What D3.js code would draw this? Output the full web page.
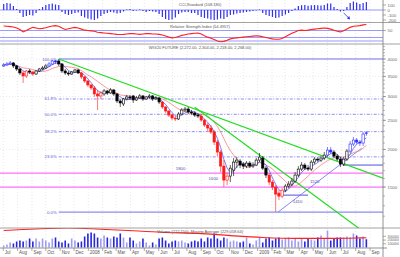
<!DOCTYPE html>
<html>
<head>
<meta charset="utf-8">
<script src="https://cdn.jsdelivr.net/npm/d3@7"></script>
<style>
body { margin:0; background:#fff; }
svg { display:block; font-family:"Liberation Sans", Arial, sans-serif; }
</style>
</head>
<body>
<div id="chart"></div>
<script>
// Weekly WIG20 future, Jul 2007 - Aug 2009
var firstWeek = "2007-07-02";

var open = [3792,3821,3850,3880,3792,3705,3594,3512,3649,3621,
  3566,3649,3705,3734,3792,3850,3940,3940,3850,3649,
  3594,3566,3621,3677,3594,3486,3380,3278,3204,3060,
  3014,3060,3131,3084,3155,3060,2900,2834,2945,2991,
  3014,2922,2968,3014,2945,2991,3014,2945,2968,2878,
  2769,2685,2604,2545,2526,2624,2706,2727,2665,2645,
  2604,2584,2506,2412,2357,2286,2117,1961,1761,1582,
  1631,1708,1816,1830,1788,1761,1802,1761,1775,1844,
  1873,1734,1644,1558,1499,1432,1399,1465,1511,1534,
  1570,1644,1721,1775,1734,1721,1816,1858,1844,1873,
  1916,1991,1961,1902,1858,1788,1858,1976,2085,2150,
  2117,2101,2272];
var high = [3880,3910,3940,3910,3821,3734,3649,3677,3705,3649,
  3677,3734,3792,3850,3910,3970,3970,4000,3880,3705,
  3649,3649,3705,3705,3621,3512,3406,3304,3253,3155,
  3131,3180,3155,3204,3180,3084,2945,2968,3037,3037,
  3037,3014,3060,3037,3014,3060,3037,3014,2991,2900,
  2791,2706,2624,2584,2665,2748,2769,2769,2706,2685,
  2645,2624,2526,2449,2412,2321,2150,1991,1844,1682,
  1775,1873,1887,1858,1816,1830,1830,1816,1873,1946,
  1902,1761,1669,1582,1522,1465,1488,1534,1570,1607,
  1682,1761,1816,1802,1775,1844,1887,1887,1902,1961,
  2038,2038,1991,1931,1887,1887,2007,2134,2200,2183,
  2150,2286,2304];
var low = [3763,3792,3821,3734,3649,3539,3329,3459,3566,3512,
  3539,3621,3677,3705,3763,3821,3850,3792,3594,3539,
  3512,3539,3594,3566,3433,3329,3229,3155,2991,2706,
  2945,3014,3037,3060,3014,2856,2769,2791,2922,2922,
  2856,2900,2945,2900,2922,2945,2900,2922,2834,2727,
  2645,2565,2506,2487,2506,2604,2665,2624,2604,2565,
  2545,2468,2375,2304,2251,2069,1902,1682,1499,1522,
  1558,1631,1734,1734,1721,1734,1734,1734,1761,1816,
  1708,1607,1522,1465,1238,1357,1378,1443,1488,1511,
  1546,1619,1695,1708,1695,1695,1788,1816,1816,1844,
  1887,1931,1873,1830,1748,1761,1830,1946,2053,2085,
  2053,2053,2218];
var close = [3821,3850,3880,3792,3705,3594,3512,3649,3621,3566,
  3649,3705,3734,3792,3850,3940,3910,3850,3649,3594,
  3566,3621,3677,3594,3486,3380,3278,3204,3060,3014,
  3084,3131,3084,3155,3060,2900,2856,2945,2991,2968,
  2922,2968,3014,2945,2991,3014,2945,2968,2878,2769,
  2685,2604,2545,2526,2624,2706,2727,2665,2645,2604,
  2584,2506,2412,2357,2286,2117,1961,1761,1582,1631,
  1734,1816,1844,1775,1761,1802,1761,1775,1844,1887,
  1734,1644,1558,1499,1421,1399,1465,1511,1534,1570,
  1644,1721,1775,1734,1721,1816,1858,1844,1873,1916,
  1991,1961,1902,1858,1788,1858,1976,2085,2150,2117,
  2101,2251,2268];
var volume = [54000,81000,135000,108000,162000,188000,162000,188000,242000,162000,
  242000,162000,242000,188000,135000,242000,269000,162000,135000,188000,
  108000,242000,188000,135000,162000,296000,377000,404000,377000,269000,
  242000,323000,269000,242000,296000,269000,377000,269000,135000,269000,
  188000,108000,162000,242000,135000,54000,135000,81000,242000,269000,
  188000,108000,162000,188000,162000,188000,135000,108000,162000,188000,
  162000,242000,162000,269000,242000,377000,242000,188000,269000,242000,
  162000,188000,162000,135000,162000,269000,108000,81000,188000,269000,
  135000,242000,269000,188000,242000,269000,215000,242000,269000,188000,
  242000,162000,242000,162000,242000,215000,188000,269000,323000,242000,
  458000,188000,242000,269000,269000,269000,296000,269000,377000,323000,
  242000,296000,222150];
var cci = [120,140,130,80,20,-60,-140,-120,-100,-110,
  -60,20,60,100,120,130,110,100,-40,-80,
  -100,-80,-60,-50,-120,-150,-170,-190,-200,-170,
  -120,-80,-60,-40,-50,-70,-60,-30,10,20,
  -20,-10,10,-20,-40,-20,-30,-40,-80,-140,
  -180,-200,-190,-150,-80,-50,-40,-40,-60,-60,
  -100,-140,-160,-170,-190,-200,-190,-170,-180,-140,
  -100,-90,-70,-60,-50,-40,-30,-20,-10,10,
  -60,-100,-120,-140,-160,-150,-120,-90,-60,-20,
  30,80,95,100,85,95,100,95,90,100,
  130,130,60,20,-30,-20,60,140,170,150,
  120,140,160];
var rsi = [63,62,61,60,57,53,46,50,55,59,
  57,55,56,58,61,63,64,62,57,53,
  55,57,59,57,54,51,50,49,48,45,
  44,43,42,41,40,39,38.5,39,40,41,
  41,40,39,40,41,41,40,40,39,37,
  34,31,29,30,33,36,38,40,41,42,
  43,40,35,31,28,24,20,18,19,22,
  26,28,29,30,31,32,33,34,35,34,
  32,30,28,26,25,25,27,32,37,42,
  46,50,51,50,51,53,54,55,56,57,
  56,54,51,48,46,49,54,59,62,63,
  64,66,67];
var volMaWeeks = [0,10,20,30,40,50,60,70,80,90,100,110,112];
var volMaValues = [458000,500000,525000,490000,450000,405000,380000,320000,270000,245000,245000,258000,262000];

var priceTicks = [4000,3500,3000,2500,2000,1500];
var cciTicks = [100,0,-100,-200];
var rsiLevels = [50,30,20];
var rsiTicks = [50];
var volTicks = [300000,200000,100000];
var monthNames = ["2008","Feb","Mar","Apr","May","Jun","Jul","Aug","Sep","Oct","Nov","Dec"];

// Fibonacci retracement from the Oct 2007 high to the Feb 2009 low
var fibFrom = "2007-10-29";
var fibHigh = 4000, fibLow = 1238;
var fibLevels = [1, 0.618, 0.5, 0.382, 0.236, 0];
var fibLabels = ["100.0%","61.8%","50.0%","38.2%","23.6%","0.0%"];

// drawn lines: [date, price]
var greenLine1 = [["2007-10-29", 4000], ["2009-09-29", 1606]];
var greenLine2 = [["2008-08-18", 2765], ["2009-08-10", 1087]];
var supportLine = [["2009-02-14", 1238], ["2009-08-14", 2021]];
var level1410 = [["2009-02-25", 1410], ["2009-04-20", 1410]];
var level1775 = [["2009-07-04", 1775], ["2009-09-29", 1775]];
var pinkLevels = [1669, 1499];
var noteText = ["1800", "1600", "1520", "1410"];
var noteDate = ["2008-07-08", "2008-09-17", "2009-04-24", "2009-03-18"];
var notePrice = [1734, 1607, 1570, 1342];

var parseDate = d3.timeParse("%Y-%m-%d");
var start = parseDate(firstWeek);
var weeks = d3.timeMonday.range(start, d3.timeMonday.offset(start, close.length));

var svg_width = 400, svg_height = 257;
var plotRight = 383;
var cciTop = 0, cciBot = 22.5, rsiTop = 22.5, rsiBot = 44;
var mainTop = 44, mainBot = 228, volTop = 228, volBot = 248;

var svg = d3.select("#chart").append("svg")
  .attr("width", svg_width)
  .attr("height", svg_height);

var x = d3.scaleTime()
  .domain([parseDate("2007-06-24"), parseDate("2009-09-29")])
  .range([0, plotRight]);
var y = d3.scaleLog().domain([1096, 4487]).range([mainBot, mainTop]);
var yCci = d3.scaleLinear().domain([-250, 200]).range([cciBot, cciTop]);
var yRsi = d3.scaleLinear().domain([11.4, 72.9]).range([rsiBot, rsiTop]);
var yVol = d3.scaleLinear().domain([0, 350000]).range([247.5, 234.5]);

function clip(id, top, bot) {
  svg.append("clipPath").attr("id", id).append("rect")
    .attr("x", 0).attr("y", top).attr("width", plotRight).attr("height", bot - top);
}
clip("cMain", mainTop, mainBot);
clip("cCci", cciTop, cciBot);
clip("cRsi", rsiTop, rsiBot);
clip("cVol", volTop, volBot);

// month grid
var months = d3.timeMonth.range(parseDate("2007-07-01"), parseDate("2009-09-02"));
svg.append("g").selectAll("line")
  .data(months).enter().append("line")
  .attr("x1", function(d) { return x(d); })
  .attr("x2", function(d) { return x(d); })
  .attr("y1", 0).attr("y2", volBot)
  .attr("stroke", "#d8d8d8")
  .attr("stroke-width", 0.6)
  .attr("stroke-dasharray", "1,2");

svg.append("g").selectAll("line")
  .data(priceTicks).enter().append("line")
  .attr("x1", 0).attr("x2", plotRight)
  .attr("y1", function(d) { return y(d); })
  .attr("y2", function(d) { return y(d); })
  .attr("stroke", "#dcdcdc")
  .attr("stroke-width", 0.6)
  .attr("stroke-dasharray", "1,2");

// ---------- CCI ----------
var gCci = svg.append("g").attr("clip-path", "url(#cCci)");
gCci.append("line")
  .attr("x1", 0).attr("x2", plotRight)
  .attr("y1", yCci(0)).attr("y2", yCci(0))
  .attr("stroke", "#7b7bff").attr("stroke-width", 0.8);
gCci.selectAll("rect")
  .data(cci).enter().append("rect")
  .attr("x", function(d, i) { return x(weeks[i]) - 0.6; })
  .attr("y", function(d) { return Math.min(yCci(d), yCci(0)); })
  .attr("width", 1.2)
  .attr("height", function(d) { return Math.abs(yCci(d) - yCci(0)); })
  .attr("fill", "#2f2ff0");
gCci.append("line")
  .attr("x1", x(parseDate("2009-07-06"))).attr("y1", yCci(-60))
  .attr("x2", x(parseDate("2009-07-17"))).attr("y2", yCci(-160))
  .attr("stroke", "#3030f0").attr("stroke-width", 0.8);
gCci.append("path")
  .attr("d", d3.symbol().type(d3.symbolTriangle).size(5))
  .attr("transform", "translate(" + x(parseDate("2009-07-17")) + "," + yCci(-160) + ") rotate(135)")
  .attr("fill", "#3030f0");

// ---------- RSI ----------
var gRsi = svg.append("g").attr("clip-path", "url(#cRsi)");
gRsi.selectAll("line")
  .data(rsiLevels).enter().append("line")
  .attr("x1", 0).attr("x2", plotRight)
  .attr("y1", function(d) { return yRsi(d); })
  .attr("y2", function(d) { return yRsi(d); })
  .attr("stroke", "#8080ff").attr("stroke-width", 0.8);
gRsi.append("path")
  .datum(rsi)
  .attr("fill", "none")
  .attr("stroke", "#ff2020")
  .attr("stroke-width", 1.1)
  .attr("d", d3.line()
    .x(function(d, i) { return x(weeks[i]); })
    .y(function(d) { return yRsi(d); }));

// ---------- main price panel ----------
var gMain = svg.append("g").attr("clip-path", "url(#cMain)");

var fibStartX = x(parseDate(fibFrom));
gMain.selectAll(".fib")
  .data(fibLevels).enter().append("line")
  .attr("class", "fib")
  .attr("x1", fibStartX).attr("x2", plotRight)
  .attr("y1", function(d) { return y(fibLow + d * (fibHigh - fibLow)); })
  .attr("y2", function(d) { return y(fibLow + d * (fibHigh - fibLow)); })
  .attr("stroke", "#7070f0")
  .attr("stroke-width", function(d) { return (d === 0 || d === 1) ? 1 : 0.8; })
  .attr("stroke-dasharray", function(d) { return (d === 0 || d === 1) ? null : "3,1.5,1,1.5"; });

gMain.selectAll(".fibLabel")
  .data(fibLevels).enter().append("text")
  .attr("class", "fibLabel")
  .attr("x", fibStartX - 2)
  .attr("y", function(d) { return y(fibLow + d * (fibHigh - fibLow)); })
  .attr("dy", "0.35em")
  .attr("text-anchor", "end")
  .attr("font-size", "4.3px")
  .attr("fill", "#5a5ad0")
  .text(function(d, i) { return fibLabels[i]; });

gMain.selectAll(".pink")
  .data(pinkLevels).enter().append("line")
  .attr("class", "pink")
  .attr("x1", 0).attr("x2", plotRight)
  .attr("y1", function(d) { return y(d); })
  .attr("y2", function(d) { return y(d); })
  .attr("stroke", "#ff70ff").attr("stroke-width", 1.1);

function drawSeg(seg, color, width) {
  gMain.append("line")
    .attr("x1", x(parseDate(seg[0][0]))).attr("y1", y(seg[0][1]))
    .attr("x2", x(parseDate(seg[1][0]))).attr("y2", y(seg[1][1]))
    .attr("stroke", color).attr("stroke-width", width);
}
drawSeg(level1410, "#5050e0", 1);
drawSeg(level1775, "#5050e0", 1);
drawSeg(supportLine, "#6a6af0", 0.8);

// moving averages of the close
function sma(arr, n) {
  return arr.map(function(d, i) {
    return d3.mean(arr.slice(Math.max(0, i - n + 1), i + 1));
  });
}
var maFast = sma(close, 4);
var maSlow = sma(close, 9);
var maLine = d3.line()
  .x(function(d, i) { return x(weeks[i]); })
  .y(function(d) { return y(d); });
gMain.append("path").datum(maSlow)
  .attr("fill", "none").attr("stroke", "#f08080").attr("stroke-width", 0.8)
  .attr("d", maLine);
gMain.append("path").datum(maFast)
  .attr("fill", "none").attr("stroke", "#5c5cf5").attr("stroke-width", 0.8)
  .attr("d", maLine);

drawSeg(greenLine1, "#22dd22", 1.2);
drawSeg(greenLine2, "#22dd22", 1.2);

// candles, coloured by the CCI zone (blue above +100, red below -100)
var candleW = 2.3;
function zoneColor(i) {
  if (cci[i] > 100) return "#2b2bff";
  if (cci[i] < -100) return "#ff1a1a";
  return "#000";
}
var candles = gMain.selectAll(".candle")
  .data(close).enter().append("g").attr("class", "candle");
candles.append("line")
  .attr("x1", function(d, i) { return x(weeks[i]); })
  .attr("x2", function(d, i) { return x(weeks[i]); })
  .attr("y1", function(d, i) { return y(high[i]); })
  .attr("y2", function(d, i) { return y(low[i]); })
  .attr("stroke", function(d, i) { return zoneColor(i); })
  .attr("stroke-width", 0.6);
candles.append("rect")
  .attr("x", function(d, i) { return x(weeks[i]) - candleW / 2; })
  .attr("y", function(d, i) { return y(Math.max(open[i], close[i])); })
  .attr("width", candleW)
  .attr("height", function(d, i) { return Math.max(0.6, Math.abs(y(open[i]) - y(close[i]))); })
  .attr("fill", function(d, i) { return close[i] >= open[i] ? "#fff" : zoneColor(i); })
  .attr("stroke", function(d, i) { return zoneColor(i); })
  .attr("stroke-width", 0.6);

gMain.selectAll(".note")
  .data(noteText).enter().append("text")
  .attr("class", "note")
  .attr("x", function(d, i) { return x(parseDate(noteDate[i])); })
  .attr("y", function(d, i) { return y(notePrice[i]); })
  .attr("dy", "0.35em")
  .attr("font-size", "4.3px")
  .attr("fill", "#5050b0")
  .text(function(d) { return d; });

// ---------- volume ----------
var gVol = svg.append("g").attr("clip-path", "url(#cVol)");
gVol.selectAll("rect")
  .data(volume).enter().append("rect")
  .attr("x", function(d, i) { return x(weeks[i]) - 0.8; })
  .attr("y", function(d) { return yVol(d); })
  .attr("width", 1.6)
  .attr("height", function(d) { return yVol(0) - yVol(d); })
  .attr("fill", function(d, i) { return close[i] < open[i] ? "#2626dd" : "#9d9df2"; });
gVol.append("path")
  .datum(volMaValues)
  .attr("fill", "none")
  .attr("stroke", "#ff2020")
  .attr("stroke-width", 1.1)
  .attr("d", d3.line()
    .curve(d3.curveMonotoneX)
    .x(function(d, i) { return x(weeks[volMaWeeks[i]]); })
    .y(function(d) { return yVol(d); }));

// ---------- frame, separators, axes ----------
[cciBot, rsiBot, mainBot].forEach(function(v) {
  svg.append("line")
    .attr("x1", 0).attr("x2", svg_width)
    .attr("y1", v).attr("y2", v)
    .attr("stroke", "#8c8c8c").attr("stroke-width", 0.8);
});
svg.append("line")
  .attr("x1", 0).attr("x2", plotRight + 4)
  .attr("y1", volBot).attr("y2", volBot)
  .attr("stroke", "#777").attr("stroke-width", 0.8);
svg.append("line")
  .attr("x1", plotRight).attr("x2", plotRight)
  .attr("y1", 0).attr("y2", svg_height)
  .attr("stroke", "#777").attr("stroke-width", 0.8);

// minor price ticks
var minorTicks = d3.range(1200, 4500, 100);
svg.append("g").selectAll("line")
  .data(minorTicks).enter().append("line")
  .attr("x1", plotRight).attr("x2", plotRight + 2)
  .attr("y1", function(d) { return y(d); })
  .attr("y2", function(d) { return y(d); })
  .attr("stroke", "#777").attr("stroke-width", 0.5);

function rightLabels(ticks, scale, size) {
  var g = svg.append("g");
  g.selectAll("line").data(ticks).enter().append("line")
    .attr("x1", plotRight).attr("x2", plotRight + 3)
    .attr("y1", function(d) { return scale(d); })
    .attr("y2", function(d) { return scale(d); })
    .attr("stroke", "#777").attr("stroke-width", 0.6);
  g.selectAll("text").data(ticks).enter().append("text")
    .attr("x", plotRight + 4.5)
    .attr("y", function(d) { return scale(d); })
    .attr("dy", "0.35em")
    .attr("font-size", size)
    .attr("fill", "#666")
    .text(function(d) { return d; });
}
rightLabels(priceTicks, y, "4.3px");
rightLabels(cciTicks, yCci, "4.3px");
rightLabels(rsiTicks, yRsi, "4.3px");
rightLabels(volTicks, yVol, "3.4px");

// month axis
svg.append("g").selectAll("line")
  .data(months).enter().append("line")
  .attr("x1", function(d) { return x(d); })
  .attr("x2", function(d) { return x(d); })
  .attr("y1", volBot).attr("y2", volBot + 3)
  .attr("stroke", "#777").attr("stroke-width", 0.6);
svg.append("g").selectAll("text")
  .data(months).enter().append("text")
  .attr("x", function(d) { return x(d) + 1.5; })
  .attr("y", volBot + 6)
  .attr("font-size", "4.5px")
  .attr("fill", "#555")
  .text(function(d) {
    return d.getMonth() === 0 ? String(d.getFullYear()) : monthNames[d.getMonth()];
  });

// panel titles
var titles = [
  ["CCI-Standard (108.180)", 5],
  ["Relative Strength Index (54.4957)", 27],
  ["WIG20 FUTURE (2,272.00, 2,304.00, 2,218.00, 2,268.00)", 47.5],
  ["Volume (222,150), Moving Average (229,058.64)", 232]
];
svg.selectAll(".title")
  .data(titles).enter().append("text")
  .attr("class", "title")
  .attr("x", 200)
  .attr("y", function(d) { return d[1]; })
  .attr("dy", "0.35em")
  .attr("text-anchor", "middle")
  .attr("font-size", "4px")
  .attr("fill", "#555")
  .text(function(d) { return d[0]; });
</script>
</body>
</html>
